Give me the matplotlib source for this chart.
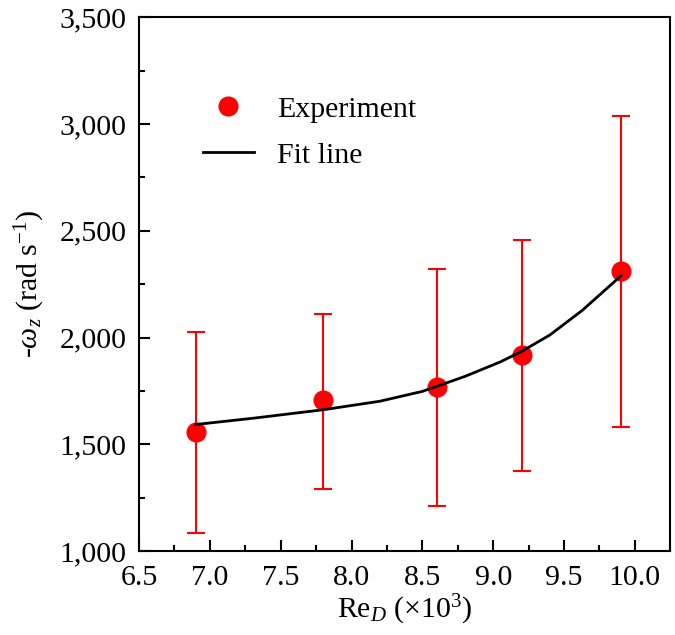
import matplotlib
matplotlib.use("Agg")
import matplotlib.pyplot as plt
from matplotlib.ticker import MultipleLocator, StrMethodFormatter

plt.rcParams['font.family'] = ['Liberation Serif', 'DejaVu Serif']
plt.rcParams['mathtext.fontset'] = 'custom'
plt.rcParams['mathtext.rm'] = 'Liberation Serif'
plt.rcParams['mathtext.it'] = 'Liberation Serif:italic'

# experiment points
re_d = [6.9, 7.8, 8.6, 9.2, 9.9]
omega = [1556, 1707, 1769, 1918, 2311]
err_hi = [2027, 2110, 2323, 2459, 3038]
err_lo = [1083, 1292, 1212, 1375, 1579]

# fit line
fit_x = [6.9, 7.3, 7.8, 8.2, 8.5, 8.8, 9.05, 9.2, 9.4, 9.63, 9.9]
fit_y = [1593, 1622, 1662, 1702, 1748, 1818, 1886, 1935, 2012, 2128, 2288]

yerr = [[o - l for o, l in zip(omega, err_lo)],
        [h - o for o, h in zip(omega, err_hi)]]

fig, ax = plt.subplots(figsize=(6.75, 6.35), dpi=100)
fig.subplots_adjust(left=0.206, right=0.993, bottom=0.132, top=0.973)

ax.errorbar(re_d, omega, yerr=yerr, fmt='none', ecolor='#ff0000',
            elinewidth=1.5, capsize=6.7, capthick=1.5, zorder=2)
ax.plot(re_d, omega, 'o', color='#ff0000', markersize=13.5, label='Experiment', zorder=3)
ax.plot(fit_x, fit_y, color='black', linewidth=2, label='Fit line', zorder=4)

ax.set_xlim(6.5, 10.25)
ax.set_ylim(1000, 3500)
ax.xaxis.set_major_locator(MultipleLocator(0.5))
ax.xaxis.set_minor_locator(MultipleLocator(0.25))
ax.yaxis.set_major_locator(MultipleLocator(500))
ax.yaxis.set_minor_locator(MultipleLocator(250))
ax.xaxis.set_major_formatter(StrMethodFormatter('{x:.1f}'))
ax.yaxis.set_major_formatter(StrMethodFormatter('{x:,.0f}'))

ax.tick_params(which='both', direction='in', width=1.5, labelsize=21.5,
               top=False, right=False)
ax.tick_params(which='major', length=7.7)
ax.tick_params(which='minor', length=4.2)
ax.tick_params(axis='y', which='major', pad=9)
ax.tick_params(axis='x', which='major', pad=10)
for s in ax.spines.values():
    s.set_linewidth(1.5)

ax.set_xlabel('Re$_D$ (×10$^3$)', fontsize=21.5, labelpad=1)
ax.set_ylabel(r'-$\omega_z$ (rad s$^{-1}$)', fontsize=21.5, labelpad=9)

ax.legend(loc='upper left', bbox_to_anchor=(0.12, 0.853), frameon=False,
          fontsize=21.5, handlelength=1.7, handletextpad=0.8, labelspacing=0.65,
          borderaxespad=0, borderpad=0)

fig.savefig('out.png', dpi=100)
